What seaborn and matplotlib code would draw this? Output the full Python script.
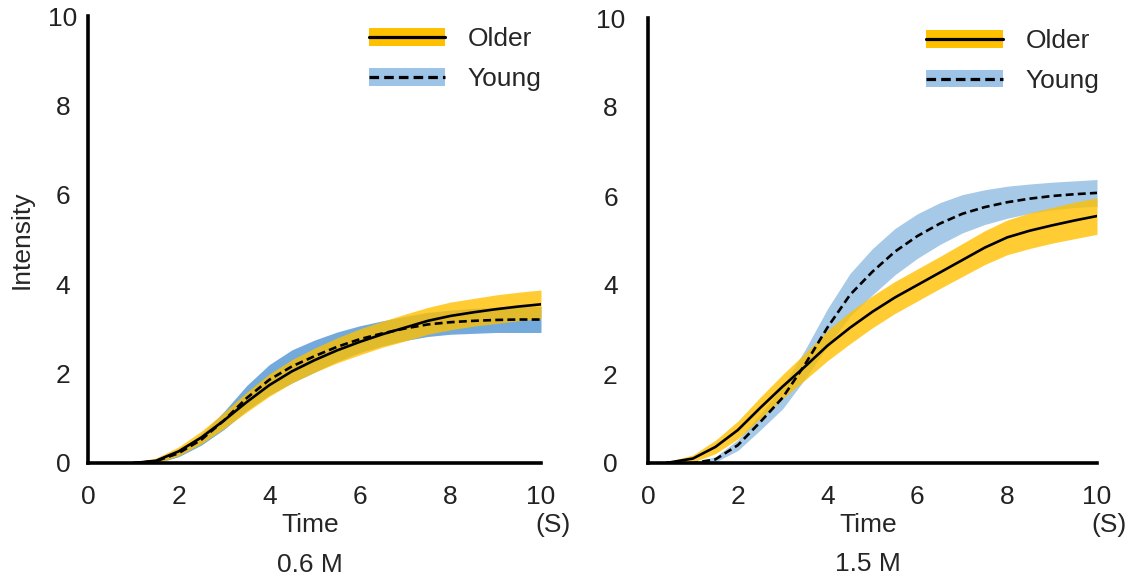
import numpy as np
import pandas as pd
import matplotlib
matplotlib.use("Agg")
import matplotlib.pyplot as plt
import seaborn as sns
from matplotlib.patches import Patch
from matplotlib.lines import Line2D

# ---------------- data ----------------
time_a = [1.0, 1.5, 2.0, 2.5, 3.0, 3.5, 4.0, 4.5, 5.0, 5.5, 6.0, 6.5, 7.0, 7.5, 8.0, 8.5, 9.0, 9.5, 10.0]
older_a = [0.0, 0.05, 0.26, 0.57, 0.95, 1.36, 1.74, 2.05, 2.30, 2.52, 2.71, 2.88, 3.03, 3.18, 3.29, 3.37, 3.44, 3.50, 3.55]
older_a_err = [0.02, 0.06, 0.10, 0.14, 0.18, 0.22, 0.25, 0.26, 0.27, 0.28, 0.29, 0.29, 0.30, 0.30, 0.31, 0.31, 0.32, 0.32, 0.32]
young_a = [0.0, 0.04, 0.22, 0.52, 0.95, 1.45, 1.86, 2.16, 2.39, 2.60, 2.77, 2.90, 3.01, 3.10, 3.15, 3.18, 3.20, 3.21, 3.21]
young_a_err = [0.02, 0.05, 0.08, 0.12, 0.20, 0.28, 0.34, 0.37, 0.36, 0.33, 0.30, 0.28, 0.27, 0.27, 0.27, 0.28, 0.28, 0.29, 0.29]

time_b = [0.4, 1.0, 1.5, 2.0, 2.5, 3.0, 3.5, 4.0, 4.5, 5.0, 5.5, 6.0, 6.5, 7.0, 7.5, 8.0, 8.5, 9.0, 9.5, 10.0]
older_b = [0.0, 0.10, 0.36, 0.74, 1.24, 1.72, 2.17, 2.64, 3.04, 3.40, 3.72, 4.00, 4.28, 4.56, 4.84, 5.07, 5.22, 5.34, 5.45, 5.55]
older_b_err = [0.02, 0.08, 0.15, 0.20, 0.24, 0.27, 0.30, 0.34, 0.36, 0.36, 0.36, 0.36, 0.36, 0.37, 0.38, 0.39, 0.40, 0.40, 0.41, 0.41]
young_b = [0.0, 0.0, 0.08, 0.40, 0.92, 1.47, 2.22, 3.05, 3.78, 4.30, 4.75, 5.10, 5.38, 5.60, 5.75, 5.86, 5.94, 6.00, 6.04, 6.07]
young_b_err = [0.01, 0.02, 0.06, 0.12, 0.18, 0.25, 0.33, 0.42, 0.48, 0.52, 0.52, 0.50, 0.47, 0.43, 0.39, 0.36, 0.33, 0.31, 0.30, 0.30]

panel_titles = ["0.6 M", "1.5 M"]
series_labels = ["Older", "Young"]
yticks = [0, 2, 4, 6, 8, 10]
xticks = [0, 2, 4, 6, 8, 10]

# ---------------- style ----------------
sns.set_style("white")
plt.rcParams["font.family"] = ["Liberation Sans", "DejaVu Sans"]

GOLD = "#FFC000"
BLUE_DARK = "#5B9BD5"
BLUE_LIGHT = "#9DC3E6"
DASH = (0, (3, 1.6))

fig = plt.figure(figsize=(11.34, 5.78), dpi=100)
ax_a = fig.add_axes([88 / 1134, 115 / 578, 453 / 1134, 447 / 578])
ax_b = fig.add_axes([648 / 1134, 115 / 578, 449 / 1134, 445 / 578])

panels = [
    (ax_a, time_a, older_a, older_a_err, young_a, young_a_err, BLUE_DARK, 0.85, panel_titles[0], True, 18),
    (ax_b, time_b, older_b, older_b_err, young_b, young_b_err, BLUE_LIGHT, 0.9, panel_titles[1], False, 27),
]

FS = 19
for ax, t, om, oe, ym, ye, bcol, balpha, title, show_ylabel, ypad in panels:
    t = np.array(t)
    om, oe, ym, ye = map(np.array, (om, oe, ym, ye))
    df = pd.DataFrame({"Time": np.concatenate([t, t]),
                       "Intensity": np.concatenate([om, ym]),
                       "Group": [series_labels[0]] * len(t) + [series_labels[1]] * len(t)})
    # bands
    ax.fill_between(t, ym - ye, ym + ye, color=bcol, alpha=balpha, lw=0, zorder=1)
    ax.fill_between(t, om - oe, om + oe, color=GOLD, alpha=0.8, lw=0, zorder=2)
    # lines
    sns.lineplot(data=df[df.Group == "Older"], x="Time", y="Intensity", ax=ax,
                 color="black", lw=1.9, zorder=4, legend=False)
    sns.lineplot(data=df[df.Group == "Young"], x="Time", y="Intensity", ax=ax,
                 color="black", lw=1.9, linestyle=DASH, zorder=5, legend=False)

    ax.set_xlim(0, 10)
    ax.set_ylim(0, 10)
    ax.set_xticks(xticks)
    ax.set_yticks(yticks)
    ax.set_xticklabels([str(v) for v in xticks], fontsize=FS)
    ax.set_yticklabels([str(v) for v in yticks], fontsize=FS, ha="center")
    for s in ["top", "right"]:
        ax.spines[s].set_visible(False)
    for s in ["left", "bottom"]:
        ax.spines[s].set_linewidth(2.6)
        ax.spines[s].set_color("black")
    ax.tick_params(axis="y", direction="in", length=8, width=2.6, pad=ypad, colors="#222222")
    ax.tick_params(axis="x", length=0, pad=16, colors="#222222")
    ax.set_xlabel("")
    ax.set_ylabel("")
    ax.text(0.49, -0.139, "Time", transform=ax.transAxes, ha="center", va="center", fontsize=FS)
    ax.text(0.988, -0.139, "(S)", transform=ax.transAxes, ha="left", va="center", fontsize=FS)
    ax.text(0.49, -0.228, title, transform=ax.transAxes, ha="center", va="center", fontsize=FS)
    if show_ylabel:
        ax.text(-0.146, 0.5, "Intensity", transform=ax.transAxes, rotation=90,
                ha="center", va="center", fontsize=FS)

    h_old = (Patch(facecolor=GOLD, edgecolor="none"),
             Line2D([], [], color="black", lw=2.3))
    h_young = (Patch(facecolor=BLUE_LIGHT, edgecolor="none"),
               Line2D([], [], color="black", lw=2.3, linestyle=DASH))
    ax.legend([h_old, h_young], series_labels, loc="upper left",
              bbox_to_anchor=(0.62, 0.975), frameon=False, fontsize=FS,
              handlelength=2.9, handleheight=0.65, handletextpad=0.85,
              labelspacing=0.6, borderpad=0, borderaxespad=0)

fig.savefig("out.png", dpi=100)
